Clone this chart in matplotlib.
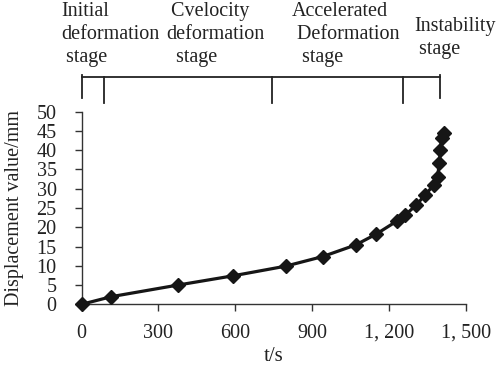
import matplotlib
matplotlib.use("Agg")
import matplotlib.pyplot as plt
from matplotlib.ticker import FuncFormatter

# Data
time_s = [0, 117, 376, 591, 796, 941, 1069, 1149, 1230, 1263, 1305, 1339, 1375, 1389, 1396, 1400, 1405, 1413]
displacement_mm = [0, 2.0, 5.0, 7.4, 9.9, 12.4, 15.4, 18.2, 21.6, 23.2, 25.7, 28.3, 31.0, 33.1, 36.7, 40.0, 43.3, 44.4]
stage_bounds = [0, 87, 744, 1253, 1399]
stage_labels = ["Initial\ndeformation\n stage", " Cvelocity\ndeformation\n  stage",
                "Accelerated\n Deformation\n  stage", "Instability\n stage"]
x_ticks = [0, 300, 600, 900, 1200, 1500]
y_ticks = [0, 5, 10, 15, 20, 25, 30, 35, 40, 45, 50]

plt.rcParams['font.family'] = ['Liberation Serif', 'DejaVu Serif']

fig = plt.figure(figsize=(5, 3.68), dpi=100)
ax = fig.add_axes([0.163, 0.173, 0.769, 0.5235])

ax.plot(time_s, displacement_mm, color='#161616', lw=2.3, marker='D', ms=7.5,
        clip_on=False, zorder=3)

ax.set_xlim(0, 1500)
ax.set_ylim(0, 50)
ax.set_xticks(x_ticks)
ax.set_yticks(y_ticks)
ax.xaxis.set_major_formatter(FuncFormatter(lambda v, p: f"{int(v):,}".replace(",", ", ")))
for s in ['top', 'right']:
    ax.spines[s].set_visible(False)
for s in ['left', 'bottom']:
    ax.spines[s].set_color('#333333')
    ax.spines[s].set_linewidth(1.0)
ax.tick_params(axis='both', direction='out', length=5, width=1.0, color='#333333',
               labelsize=14.5, labelcolor='#222222')
ax.tick_params(axis='y', pad=13)
ax.tick_params(axis='x', pad=9)
ax.set_xlabel("t/s", fontsize=15, color='#222222', labelpad=3)
ax.set_ylabel("Displacement value/mm", fontsize=14.5, color='#222222', labelpad=9)

# Stage bracket
line_y = 59.0
ax.plot([stage_bounds[0], stage_bounds[-1]], [line_y, line_y], color='#222222', lw=1.3, clip_on=False)
for i, b in enumerate(stage_bounds):
    bottom = 53.5 if i in (0, len(stage_bounds) - 1) else 52.2
    top = 59.5 if i in (0, len(stage_bounds) - 1) else line_y
    ax.plot([b, b], [bottom, top], color='#222222', lw=1.3, clip_on=False)

# Stage labels (figure pixel positions)
label_pos = [(61, 2), (166, 2), (292, 2), (414, 17)]
for (px, py), lab in zip(label_pos, stage_labels):
    fig.text(px / 500, 1 - py / 368, lab, fontsize=14.5, ha='left', va='top',
             linespacing=1.3, color='#222222')

fig.savefig("out.png", dpi=100)
